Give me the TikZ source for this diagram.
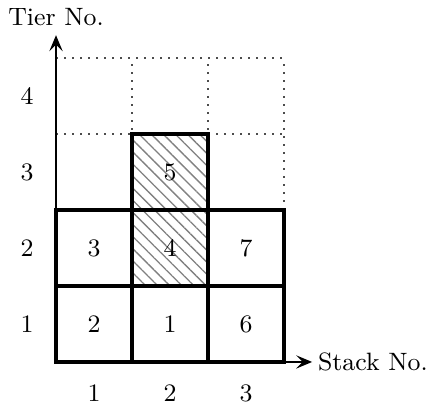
\documentclass[tikz,border=0pt]{standalone}
\usetikzlibrary{patterns.meta,arrows.meta}
\tikzset{
  slot/.style={draw, line width=1.5pt, minimum size=1cm, inner sep=0pt},
  moved/.style={slot, pattern={Lines[angle=-45, distance=3.2pt, line width=0.5pt]}, pattern color=gray},
  freeslot/.style={line width=0.6pt, dash pattern=on 0.6pt off 2.4pt, black!70},
  axis/.style={-{Stealth[length=6pt, width=5pt, inset=2.5pt]}, line width=0.5pt}
}
\begin{document}
\begin{tikzpicture}[font=\fontsize{9.4}{11}\selectfont]
        \useasboundingbox (-0.737,-0.579) rectangle (4.895,4.763);
        % empty slots above the stacks
        \draw [freeslot] (0,2) grid (3,4);
        % containers
        \node [slot] (s11) at (0.5,0.5) {2};
        \node [slot] (s21) at (1.5,0.5) {1};
        \node [slot] (s31) at (2.5,0.5) {6};
        \node [slot] (s12) at (0.5,1.5) {3};
        \node [moved] (s22) at (1.5,1.5) {4};
        \node [slot] (s32) at (2.5,1.5) {7};
        \node [moved] (s23) at (1.5,2.5) {5};
        % axes
        \coordinate (O) at (0,0);
        \coordinate (xend) at (3.37,0);
        \coordinate (yend) at (0,4.3);
        \draw [axis] (O) -- (xend) node (xlab) [anchor=west, inner sep=2pt] {Stack No.};
        \draw [axis] (O) -- (yend) node (ylab) [anchor=south] {Tier No.};
        \path (-0.38,0.5) node (t1) {1} (-0.38,1.5) node (t2) {2} (-0.38,2.5) node (t3) {3} (-0.38,3.5) node (t4) {4};
        \path (0.5,-0.41) node (k1) {1} (1.5,-0.41) node (k2) {2} (2.5,-0.41) node (k3) {3};
    \end{tikzpicture}
\end{document}
